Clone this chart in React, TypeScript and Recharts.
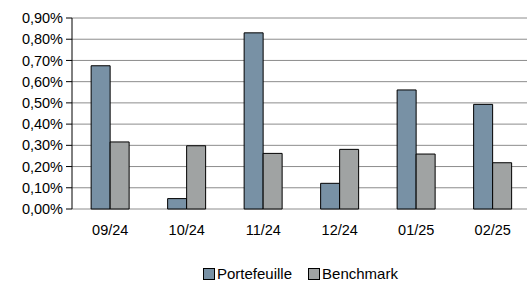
import React from "react";
import { BarChart, Bar, XAxis, YAxis, CartesianGrid } from "recharts";

const months = ["09/24", "10/24", "11/24", "12/24", "01/25", "02/25"];
const portefeuille = [0.675, 0.049, 0.83, 0.121, 0.561, 0.493];
const benchmark = [0.316, 0.298, 0.262, 0.281, 0.259, 0.218];
const yTicks = [0, 0.1, 0.2, 0.3, 0.4, 0.5, 0.6, 0.7, 0.8, 0.9];
const boundaryTicks = [0, 1, 2, 3, 4, 5, 6];

const seriesNames = ["Portefeuille", "Benchmark"];
const colors = ["#7891A5", "#A0A3A3"];

const data = months.map((m, i) => ({
  month: m,
  Portefeuille: portefeuille[i],
  Benchmark: benchmark[i],
}));

const FONT = "'Liberation Sans', Arial, sans-serif";

const LegendBox = () => (
  <div
    style={{
      position: "absolute",
      top: 265,
      left: 203,
      display: "flex",
      alignItems: "center",
      fontFamily: FONT,
      fontSize: 15,
      lineHeight: "18px",
      color: "#000",
      gap: 16,
      whiteSpace: "nowrap",
    }}
  >
    {seriesNames.map((n, i) => (
      <div key={n} style={{ display: "flex", alignItems: "center" }}>
        <span
          style={{
            display: "inline-block",
            width: 10,
            height: 10,
            background: colors[i],
            border: "1px solid #000",
            marginRight: 2,
          }}
        />
        <span>{n}</span>
      </div>
    ))}
  </div>
);

export default function App() {
  return (
    <div
      style={{
        position: "absolute",
        left: 0,
        top: 0,
        width: 527,
        height: 281,
        overflow: "hidden",
        background: "#fff",
      }}
    >
      <BarChart
        width={531}
        height={281}
        data={data}
        margin={{ top: 18, right: 0, bottom: 0, left: 0 }}
        barCategoryGap="25%"
        barGap={0}
        style={{ fontFamily: FONT }}
      >
        <CartesianGrid vertical={false} stroke="#8c8c8c" strokeWidth={1} yAxisId="y" />
        <XAxis
          xAxisId="ticks"
          type="number"
          domain={[0, 6]}
          ticks={boundaryTicks}
          allowDataOverflow
          tick={false}
          tickSize={5}
          tickLine={{ stroke: "#000" }}
          axisLine={{ stroke: "#000" }}
          height={0}
        />
        <XAxis
          xAxisId="cat"
          dataKey="month"
          axisLine={false}
          tickLine={false}
          tickSize={0}
          tickMargin={16}
          height={72}
          interval={0}
          tick={{ fill: "#000", fontSize: 14.5, fontFamily: FONT }}
        />
        <YAxis
          yAxisId="y"
          domain={[0, 0.9]}
          ticks={yTicks}
          interval={0}
          width={72}
          tickSize={6}
          tickMargin={3}
          axisLine={{ stroke: "#000" }}
          tickLine={{ stroke: "#000" }}
          tick={{ fill: "#000", fontSize: 14.5, fontFamily: FONT }}
          tickFormatter={(v: number) => v.toFixed(2).replace(".", ",") + "%"}
        />
        {seriesNames.map((n, i) => (
          <Bar
            key={n}
            dataKey={n}
            xAxisId="cat"
            yAxisId="y"
            fill={colors[i]}
            stroke="#000"
            strokeWidth={1}
            isAnimationActive={false}
          />
        ))}
      </BarChart>
      <LegendBox />
    </div>
  );
}
